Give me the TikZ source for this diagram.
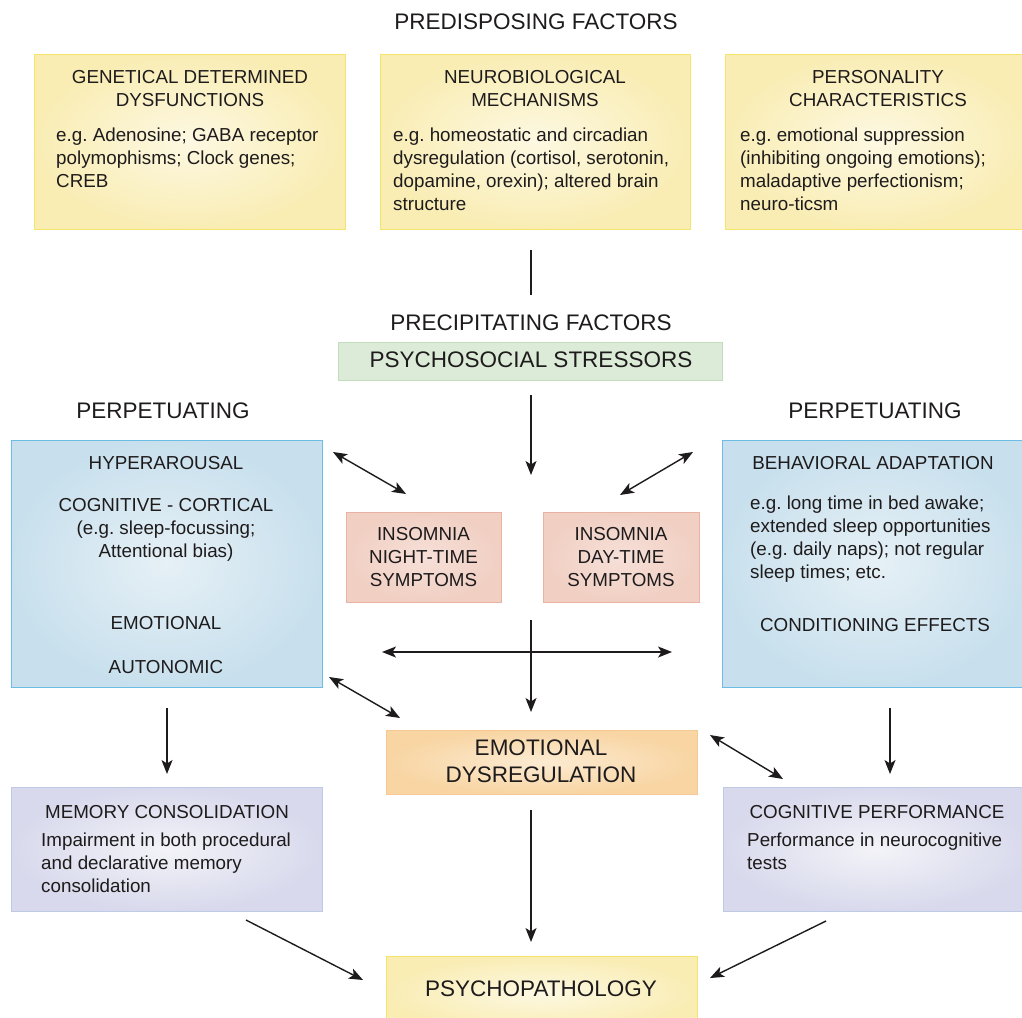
\documentclass[tikz,border=0pt]{standalone}
\usepackage{fontspec}
\setmainfont{Liberation Sans}
\usetikzlibrary{arrows.meta}
\frenchspacing
\definecolor{txt}{HTML}{1E1B1C}
\definecolor{yOut}{HTML}{F9EDB4}\definecolor{yIn}{HTML}{FDF8E2}\definecolor{yBd}{HTML}{F4E469}
\definecolor{gFill}{HTML}{DCEBD7}\definecolor{gBd}{HTML}{C2DDBD}
\definecolor{bOut}{HTML}{C8E0ED}\definecolor{bIn}{HTML}{E6F0F6}\definecolor{bBd}{HTML}{6BBDE6}
\definecolor{pOut}{HTML}{F1CFC3}\definecolor{pIn}{HTML}{F6E0D8}\definecolor{pBd}{HTML}{E8B3A3}
\definecolor{oOut}{HTML}{F8D5A3}\definecolor{oIn}{HTML}{FCEBD2}\definecolor{oBd}{HTML}{F5C895}
\definecolor{lOut}{HTML}{D8D9EC}\definecolor{lIn}{HTML}{F3F3F8}\definecolor{lBd}{HTML}{BFCBE4}
\newcommand{\bodyfs}{\fontsize{18.8}{23}\selectfont\frenchspacing}
\newcommand{\headfs}{\fontsize{22.5}{27}\selectfont}
\begin{document}
\begin{tikzpicture}[x=1pt,y=-1pt,
  box/.style={rectangle, inner sep=0pt, line width=1pt},
  ybox/.style={box, draw=yBd, inner color=yIn, outer color=yOut},
  gbox/.style={box, draw=gBd, fill=gFill},
  bbox/.style={box, draw=bBd, inner color=bIn, outer color=bOut},
  pbox/.style={box, draw=pBd, inner color=pIn, outer color=pOut},
  obox/.style={box, draw=oBd, inner color=oIn, outer color=oOut},
  lbox/.style={box, draw=lBd, inner color=lIn, outer color=lOut},
  tx/.style={inner sep=0pt, text=txt, font=\bodyfs},
  hx/.style={inner sep=0pt, text=txt, font=\headfs},
  arr/.style={line width=1.4pt, draw=txt, -{Stealth[length=14pt,width=11pt,inset=3.5pt]}},
  darr/.style={line width=1.4pt, draw=txt, {Stealth[length=14pt,width=11pt,inset=3.5pt]}-{Stealth[length=14pt,width=11pt,inset=3.5pt]}},
  plain/.style={line width=1.4pt, draw=txt}]
\useasboundingbox (0,0) rectangle (1022,1017);
\fill[white] (0,0) rectangle (1022,1017);

% headings
\node[hx] (hpre) at (536,22) {PREDISPOSING FACTORS};
\node[hx] (hprec) at (531,323) {PRECIPITATING FACTORS};
\node[hx] (hperl) at (163,411) {PERPETUATING};
\node[hx] (hperr) at (875,411) {PERPETUATING};

% top boxes
\node[ybox, minimum width=311pt, minimum height=175pt] (gen) at (189.5,141.5) {};
\node[ybox, minimum width=310pt, minimum height=175pt] (neuro) at (535,141.5) {};
\node[ybox, minimum width=305pt, minimum height=175pt] (pers) at (877.5,141.5) {};
\node[tx, align=center] (genT) at (190,88.5) {GENETICAL DETERMINED\\DYSFUNCTIONS};
\node[tx, align=left, anchor=north west] (genB) at (56,128) {e.g. Adenosine; GABA receptor\\polymophisms; Clock genes;\\CREB};
\node[tx, align=center] (neuroT) at (535,88.5) {NEUROBIOLOGICAL\\MECHANISMS};
\node[tx, align=left, anchor=north west] (neuroB) at (393,128) {e.g. homeostatic and circadian\\dysregulation (cortisol, serotonin,\\dopamine, orexin); altered brain\\structure};
\node[tx, align=center] (persT) at (878,88.5) {PERSONALITY\\CHARACTERISTICS};
\node[tx, align=left, anchor=north west] (persB) at (740,128) {e.g. emotional suppression\\(inhibiting ongoing emotions);\\maladaptive perfectionism;\\neuro-ticsm};

% precipitating
\node[gbox, minimum width=384pt, minimum height=38pt] (stress) at (530,361) {};
\node[hx] (stressT) at (531,360) {PSYCHOSOCIAL STRESSORS};

% perpetuating boxes
\node[bbox, minimum width=311pt, minimum height=247pt] (lblue) at (166.5,563.5) {};
\node[bbox, minimum width=308pt, minimum height=247pt] (rblue) at (876,563.5) {};
\node[tx] (hyp) at (166,463) {HYPERAROUSAL};
\node[tx, align=center, anchor=north] (cog) at (166,498) {COGNITIVE - CORTICAL\\(e.g. sleep-focussing;\\Attentional bias)};
\node[tx] (emo) at (166,623) {EMOTIONAL};
\node[tx] (auto) at (166,667) {AUTONOMIC};
\node[tx] (beh) at (873,463) {BEHAVIORAL ADAPTATION};
\node[tx, align=left, anchor=north west] (behB) at (750,496) {e.g. long time in bed awake;\\extended sleep opportunities\\(e.g. daily naps); not regular\\sleep times; etc.};
\node[tx] (cond) at (875,625) {CONDITIONING EFFECTS};

% insomnia
\node[pbox, minimum width=155pt, minimum height=90pt] (night) at (423.5,557) {};
\node[pbox, minimum width=156pt, minimum height=90pt] (day) at (621,557) {};
\node[tx, align=center] (nightT) at (423.5,557) {INSOMNIA\\NIGHT-TIME\\SYMPTOMS};
\node[tx, align=center] (dayT) at (621,557) {INSOMNIA\\DAY-TIME\\SYMPTOMS};

% emotional dysregulation
\node[obox, minimum width=311pt, minimum height=64pt] (emod) at (541.5,762) {};
\node[hx, align=center] (emodT) at (541,761.5) {EMOTIONAL\\DYSREGULATION};

% consequences
\node[lbox, minimum width=311pt, minimum height=124pt] (mem) at (166.5,849) {};
\node[lbox, minimum width=307pt, minimum height=124pt] (cperf) at (876.5,849) {};
\node[tx] (memT) at (167,812) {MEMORY CONSOLIDATION};
\node[tx, align=left, anchor=north west] (memB) at (41,833) {Impairment in both procedural\\and declarative memory\\consolidation};
\node[tx] (cperfT) at (877,812) {COGNITIVE PERFORMANCE};
\node[tx, align=left, anchor=north west] (cperfB) at (747,833) {Performance in neurocognitive\\tests};

\node[ybox, minimum width=311pt, minimum height=74pt] (psy) at (541.5,993) {};
\node[hx] (psyT) at (541,989) {PSYCHOPATHOLOGY};

% connector end points
\coordinate (l1a) at (531,250); \coordinate (l1b) at (531,295);
\coordinate (a1a) at (531,395); \coordinate (a1b) at (531,475);
\coordinate (d1a) at (333,452); \coordinate (d1b) at (406,494);
\coordinate (d2a) at (693,452); \coordinate (d2b) at (620,495);
\coordinate (ha) at (382,652); \coordinate (hb) at (672,652);
\coordinate (va) at (531,620); \coordinate (vb) at (531,712);
\coordinate (d3a) at (329,677); \coordinate (d3b) at (400,718);
\coordinate (d4a) at (710,735); \coordinate (d4b) at (783,779);
\coordinate (ala) at (167,708); \coordinate (alb) at (167,774);
\coordinate (ara) at (890,708); \coordinate (arb) at (890,774);
\coordinate (ma) at (246,920); \coordinate (mb) at (363,980);
\coordinate (ca) at (826,921); \coordinate (cb) at (710,978);
\coordinate (vca) at (531,810); \coordinate (vcb) at (531,942);

\draw[plain] (l1a) -- (l1b);
\draw[arr] (a1a) -- (a1b);
\draw[darr] (d1a) -- (d1b);
\draw[darr] (d2a) -- (d2b);
\draw[darr] (ha) -- (hb);
\draw[arr] (va) -- (vb);
\draw[darr] (d3a) -- (d3b);
\draw[darr] (d4a) -- (d4b);
\draw[arr] (ala) -- (alb);
\draw[arr] (ara) -- (arb);
\draw[arr] (ma) -- (mb);
\draw[arr] (ca) -- (cb);
\draw[arr] (vca) -- (vcb);
\end{tikzpicture}
\end{document}
